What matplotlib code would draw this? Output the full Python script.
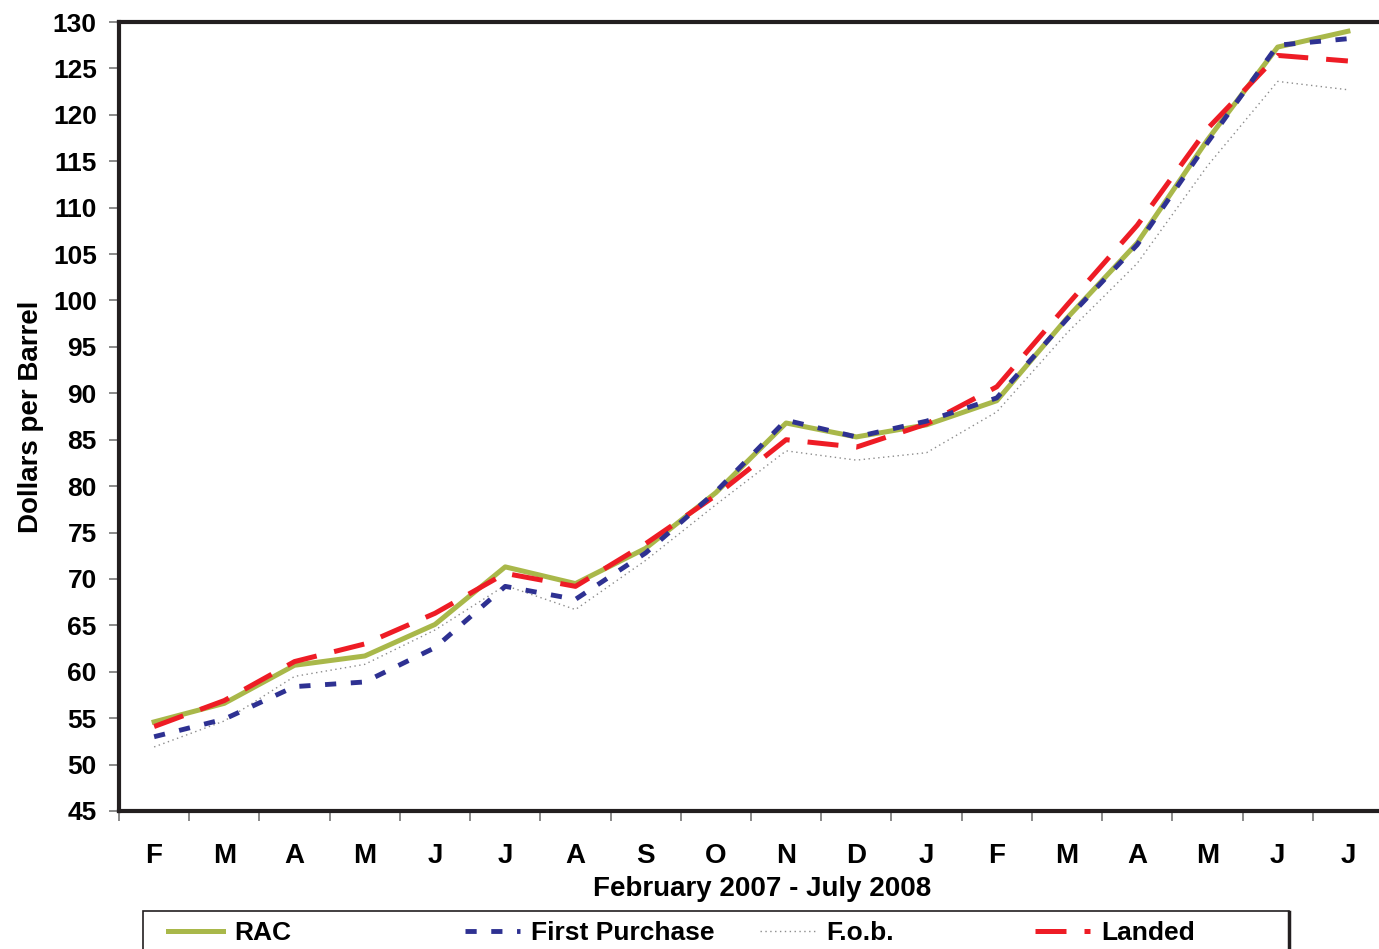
import matplotlib.pyplot as plt
from matplotlib.patches import Rectangle
from matplotlib.lines import Line2D
import numpy as np

plt.rcParams['font.family'] = ['Liberation Sans', 'DejaVu Sans']
plt.rcParams['font.weight'] = 'bold'
plt.rcParams['axes.labelweight'] = 'bold'

months = ["F", "M", "A", "M", "J", "J", "A", "S", "O", "N", "D",
          "J", "F", "M", "A", "M", "J", "J"]

rac = [54.6, 56.6, 60.7, 61.7, 65.1, 71.3, 69.5, 73.3, 79.3, 86.8, 85.3,
       86.6, 89.2, 98.1, 106.2, 117.3, 127.3, 129.0]
first_purchase = [53.0, 54.9, 58.4, 58.9, 62.6, 69.2, 67.8, 72.8, 79.4, 87.1, 85.3,
                  87.0, 89.5, 98.0, 106.0, 117.0, 127.5, 128.2]
fob = [51.9, 54.7, 59.5, 60.8, 64.5, 69.3, 66.7, 72.0, 78.0, 83.8, 82.8,
       83.6, 88.0, 96.5, 104.0, 114.5, 123.6, 122.7]
landed = [54.1, 56.9, 61.1, 63.0, 66.3, 70.6, 69.2, 73.8, 79.0, 85.0, 84.2,
          86.7, 90.7, 99.5, 108.1, 118.5, 126.4, 125.8]

W, H = 1379, 949
fig = plt.figure(figsize=(W / 100, H / 100), dpi=100)
ax = fig.add_axes([119 / W, 1 - 811 / H, 1264 / W, (811 - 22) / H])

x = np.arange(len(months))
ax.plot(x, fob, color="#8c8c8c", lw=1.0, ls=(0, (1, 2.5)), label="F.o.b.", zorder=2)
ax.plot(x, rac, color="#a9b84a", lw=3.6, label="RAC", zorder=3)
ax.plot(x, landed, color="#ee1c25", lw=3.6, ls=(0, (6.2, 3.6)), label="Landed", zorder=4)
ax.plot(x, first_purchase, color="#2e3192", lw=3.5, ls=(0, (2.3, 3.0)),
        label="First Purchase", zorder=5)

ax.set_xlim(-0.5, len(months) - 0.5)
ax.set_ylim(45, 130)
ax.set_yticks(np.arange(45, 131, 5))
ax.tick_params(axis="y", labelsize=19, length=7, width=1.2, color="#777777", pad=9)

ax.set_xticks(x)
ax.set_xticklabels(months)
ax.set_xticks(np.arange(-0.5, len(months), 1), minor=True)
ax.tick_params(axis="x", which="major", length=0, labelsize=20, pad=23)
ax.tick_params(axis="x", which="minor", length=7, width=1.2, color="#777777")

for s in ["left", "bottom", "top", "right"]:
    ax.spines[s].set_linewidth(3)
    ax.spines[s].set_color("#231f20")

ax.set_xlabel("February 2007 - July 2008", fontsize=20)
ax.xaxis.set_label_coords(0.509, -0.083)
ax.set_ylabel("Dollars per Barrel", fontsize=20, labelpad=6)

# legend: four equal columns inside one box
handles, labels = ax.get_legend_handles_labels()
entries = ["RAC", "First Purchase", "F.o.b.", "Landed"]
col_x = [168, 465, 760, 1035]
for name, cx in zip(entries, col_x):
    h = handles[labels.index(name)]
    fig.legend([h], [name], loc="center left", frameon=False,
               bbox_to_anchor=(cx / W, 1 - 933 / H), fontsize=19,
               handlelength=2.1, handletextpad=0.4, borderpad=0, borderaxespad=0)

fig.patches.append(Rectangle((143 / W, -0.02), (1289 - 143) / W, 0.02 + (949 - 911) / H,
                             transform=fig.transFigure, fill=False,
                             edgecolor="#231f20", lw=1.2))
fig.lines.append(Line2D([1289 / W, 1289 / W], [-0.02, 1 - 912 / H],
                        transform=fig.transFigure, color="#231f20", lw=2.5))

fig.savefig("out.png", dpi=100)
